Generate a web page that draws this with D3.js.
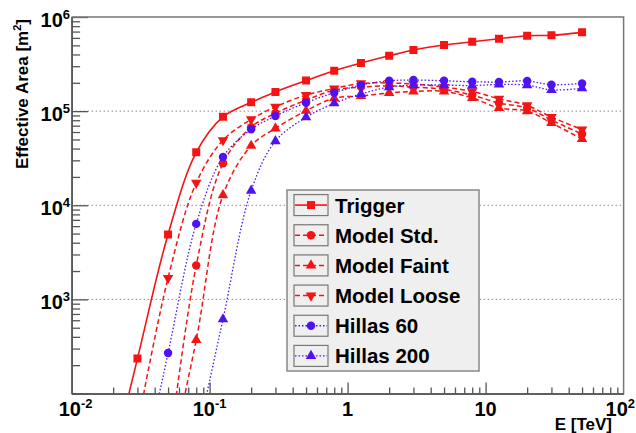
<!DOCTYPE html>
<html><head><meta charset="utf-8">
<script src="https://cdn.jsdelivr.net/npm/d3@7"></script>
<style>
body{margin:0;background:#fff}
svg{display:block}
text{font-family:"Liberation Sans",Arial,Helvetica,sans-serif;font-weight:bold;fill:#000}
</style>
</head><body>
<svg id="c" width="636" height="433"></svg>
<script>
// ---- data (energy in TeV, effective area in m^2) ----
const energies   = [0.02, 0.03, 0.05, 0.08, 0.125, 0.2, 0.3, 0.5, 0.8, 1.25, 2, 3, 5, 8, 12.5, 20, 30, 50];
const trigger    = [20, 235, 4900, 36500, 87000, 124000, 160000, 211000, 268000, 324000, 387000, 446000, 504000, 546000, 588000, 632000, 638000, 687000];
const modelStd   = [null, null, 20, 2290, 27900, 67600, 95000, 131000, 167000, 180000, 185000, 180000, 170000, 148000, 122000, 108000, 80400, 57100];
const modelFaint = [null, null, 15, 370, 12800, 42900, 65600, 101000, 137000, 145000, 156000, 162000, 162000, 138000, 108000, 100000, 74800, 50500];
const modelLoose = [null, 45, 1690, 17300, 49000, 81800, 111000, 148000, 174000, 197000, 199000, 194000, 180000, 162000, 135000, 115000, 86500, 63700];
const hillas60   = [null, 8, 269, 6340, 32500, 64100, 88700, 123000, 157000, 189000, 210000, 214000, 210000, 205000, 204000, 209000, 191000, 197000];
const hillas200  = [null, null, null, 30, 615, 14300, 48000, 86000, 121000, 152000, 180000, 189000, 189000, 187000, 192000, 189000, 168000, 175000];

const seriesNames = ["Trigger", "Model Std.", "Model Faint", "Model Loose", "Hillas 60", "Hillas 200"];
const seriesData  = [trigger, modelStd, modelFaint, modelLoose, hillas60, hillas200];

const xMajorTicks = [0.01, 0.1, 1, 10, 100];
const xTickLabels = [["10", "-2"], ["10", "-1"], ["1", ""], ["10", ""], ["10", "2"]];
const yMajorTicks = [1e3, 1e4, 1e5, 1e6];
const yTickLabels = [["10", "3"], ["10", "4"], ["10", "5"], ["10", "6"]];
const xTitle = "E [TeV]";
const yTitle = "Effective Area [m";

// ---- styles ----
const RED = "#f41414", BLUE = "#4f12f2";
const styles = [
  {color: RED,  dash: null,    width: 1.6, sym: "square"},
  {color: RED,  dash: "5,3",   width: 1.5, sym: "circle"},
  {color: RED,  dash: "5,3",   width: 1.5, sym: "up"},
  {color: RED,  dash: "5,3",   width: 1.5, sym: "down"},
  {color: BLUE, dash: "1.5,2", width: 1.3, sym: "circle"},
  {color: BLUE, dash: "1.5,2", width: 1.3, sym: "up"}
];

const L = 71.6, R = 623.6, T = 17, B = 393.5;
const x = d3.scaleLog().domain([0.01, 100]).range([L, R]);
const y = d3.scaleLog().domain([100, 1e6]).range([B, T]);

const svg = d3.select("#c");

// grid (horizontal dotted)
svg.append("g").selectAll("line").data([1e3, 1e4, 1e5]).join("line")
  .attr("x1", L).attr("x2", R).attr("y1", d => y(d)).attr("y2", d => y(d))
  .attr("stroke", "#8a8a8a").attr("stroke-width", 1).attr("stroke-dasharray", "1.5,2.5");

// minor tick values
const minors = (lo, hi) => { const a = []; for (let p = lo; p < hi; p++) for (let k = 2; k <= 9; k++) a.push(k * Math.pow(10, p)); return a; };

// y axis ticks (inward)
const gy = svg.append("g").attr("transform", `translate(${L},0)`);
gy.call(d3.axisLeft(y).tickValues(yMajorTicks.concat([100])).tickSizeInner(-16.5).tickSizeOuter(0).tickFormat(""));
gy.append("g").call(d3.axisLeft(y).tickValues(minors(2, 6)).tickSizeInner(-8.5).tickSizeOuter(0).tickFormat(""));
gy.selectAll("path").attr("stroke", "#555").attr("stroke-width", 1.5);
gy.selectAll("line").attr("stroke", "#555").attr("stroke-width", 1.3);

// x axis ticks (inward)
const gx = svg.append("g").attr("transform", `translate(0,${B})`);
gx.call(d3.axisBottom(x).tickValues([0.1, 1, 10]).tickSizeInner(-11).tickSizeOuter(0).tickFormat(""));
gx.append("g").call(d3.axisBottom(x).tickValues(minors(-2, 2)).tickSizeInner(-6).tickSizeOuter(0).tickFormat(""));
gx.selectAll("path").attr("stroke", "#555").attr("stroke-width", 1.5);
gx.selectAll("line").attr("stroke", "#555").attr("stroke-width", 1.3);

// frame top/right
svg.append("path").attr("d", `M${L},${T}H${R}V${B}`).attr("fill", "none").attr("stroke", "#777").attr("stroke-width", 1.5);

// tick labels
function supLabel(g, parts, size, supSize) {
  g.append("tspan").text(parts[0]).attr("font-size", size);
  if (parts[1]) g.append("tspan").text(parts[1]).attr("font-size", supSize).attr("dy", -8);
}
yMajorTicks.forEach((v, i) => {
  const t = svg.append("text").attr("x", 70).attr("y", y(v) + 10).attr("text-anchor", "end");
  supLabel(t, yTickLabels[i], 20, 13);
});
xMajorTicks.forEach((v, i) => {
  const last = i === xMajorTicks.length - 1;
  const t = svg.append("text").attr("x", last ? 635 : x(v) + (i === 0 ? 4 : 0)).attr("y", 416)
    .attr("text-anchor", last ? "end" : "middle");
  supLabel(t, xTickLabels[i], 20, 13);
});

// axis titles
svg.append("text").attr("x", 612).attr("y", 430).attr("text-anchor", "end").attr("font-size", 17).text(xTitle);
const yt = svg.append("text").attr("transform", "translate(28,19) rotate(-90)").attr("text-anchor", "end").attr("font-size", 17);
yt.append("tspan").text(yTitle);
yt.append("tspan").text("2").attr("font-size", 11).attr("dy", -7);
yt.append("tspan").text("]").attr("dy", 7);

// clip
svg.append("clipPath").attr("id", "clip").append("rect").attr("x", L).attr("y", T).attr("width", R - L).attr("height", B - T);

function symPath(sym) {
  if (sym === "square") return d3.symbol(d3.symbolSquare, 64)();
  if (sym === "circle") return d3.symbol(d3.symbolCircle, 56)();
  return d3.symbol(d3.symbolTriangle, 48)();
}

const plot = svg.append("g").attr("clip-path", "url(#clip)");
seriesData.forEach((vals, si) => {
  const st = styles[si];
  const pts = energies.map((e, i) => ({e, v: vals[i]})).filter(d => d.v != null);
  const line = d3.line().x(d => x(d.e)).y(d => y(d.v)).curve(d3.curveCatmullRom.alpha(0.5));
  plot.append("path").datum(pts).attr("d", line).attr("fill", "none")
    .attr("stroke", st.color).attr("stroke-width", st.width)
    .attr("stroke-dasharray", st.dash);
  plot.append("g").selectAll("path").data(pts.filter(d => d.v >= 100)).join("path")
    .attr("d", symPath(st.sym)).attr("fill", st.color)
    .attr("transform", d => `translate(${x(d.e)},${y(d.v)})${st.sym === "down" ? " rotate(180)" : ""}`);
});

// legend
const lg = svg.append("g");
const LX = 287, LY = 190, LW = 192, LH = 181;
lg.append("rect").attr("x", LX).attr("y", LY).attr("width", LW).attr("height", LH)
  .attr("fill", "#efefef").attr("stroke", "#888").attr("stroke-width", 1.5);
const rowH = LH / seriesNames.length;
seriesNames.forEach((name, i) => {
  const st = styles[i];
  const cy = LY + rowH * (i + 0.5);
  const e = lg.append("g");
  e.append("rect").attr("x", 294).attr("y", cy - 10.5).attr("width", 34).attr("height", 21)
    .attr("fill", "none").attr("stroke", "#777").attr("stroke-width", 1.2);
  e.append("line").attr("x1", 295).attr("x2", 327).attr("y1", cy).attr("y2", cy)
    .attr("stroke", st.color).attr("stroke-width", st.width).attr("stroke-dasharray", st.dash);
  e.append("path").attr("d", symPath(st.sym)).attr("fill", st.color)
    .attr("transform", `translate(311,${cy})${st.sym === "down" ? " rotate(180)" : ""}`);
  e.append("text").attr("x", 335).attr("y", cy + 7.5).attr("font-size", 20.5).text(name);
});
</script>
</body></html>
